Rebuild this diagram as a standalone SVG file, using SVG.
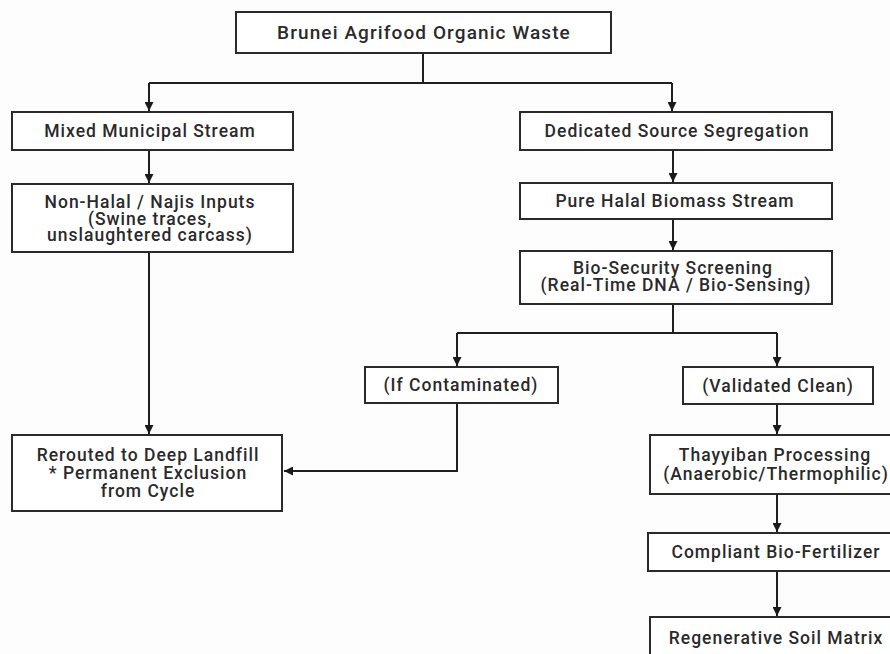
<svg xmlns="http://www.w3.org/2000/svg" width="890" height="654" viewBox="0 0 890 654">
<defs>
<marker id="ah" viewBox="0 0 10 10" refX="10" refY="5" markerWidth="9" markerHeight="9" markerUnits="userSpaceOnUse" orient="auto">
<path d="M0,0 L10,5 L0,10 z" fill="#1a1a1a"/>
</marker>
<style>
.box{fill:#ffffff;stroke:#2a2a2a;stroke-width:2}
.t{font-family:Roboto,"Liberation Sans",sans-serif;font-size:17.5px;fill:#2a2a2a;text-anchor:middle;letter-spacing:1px;font-weight:500}
.tt{font-size:19px;letter-spacing:1.1px}
.c{fill:none;stroke:#1f1f1f;stroke-width:2}
.a{marker-end:url(#ah)}
</style>
</defs>
<rect width="890" height="654" fill="#fdfdfd"/>
<g id="connectors">
<path class="c" d="M423,53 V83 M149,83 H672"/>
<path class="c a" d="M149,83 V111"/>
<path class="c a" d="M672,83 V111"/>
<path class="c a" d="M149,150 V183"/>
<path class="c a" d="M149,252 V434"/>
<path class="c a" d="M673,150 V182"/>
<path class="c a" d="M673,219 V250"/>
<path class="c" d="M673,304 V333 M457,333 H777"/>
<path class="c a" d="M457,333 V366"/>
<path class="c a" d="M777,333 V366"/>
<path class="c a" d="M457,403 V471 H284"/>
<path class="c a" d="M777,404 V434"/>
<path class="c a" d="M777,494 V532"/>
<path class="c a" d="M777,571 V616"/>
</g>
<g id="n_top"><rect class="box" x="236" y="12" width="375" height="41"/><text class="t tt" x="424" y="39">Brunei Agrifood Organic Waste</text></g>
<g id="n_mixed"><rect class="box" x="12" y="112" width="281" height="38"/><text class="t" x="150" y="137">Mixed Municipal Stream</text></g>
<g id="n_nonhalal"><rect class="box" x="12" y="184" width="281" height="68"/><text class="t" x="150" y="208">Non-Halal / Najis Inputs</text><text class="t" x="150" y="225">(Swine traces,</text><text class="t" x="150" y="241">unslaughtered carcass)</text></g>
<g id="n_reroute"><rect class="box" x="12" y="435" width="270" height="76"/><text class="t" x="148" y="461">Rerouted to Deep Landfill</text><text class="t" x="148" y="479">* Permanent Exclusion</text><text class="t" x="148" y="497">from Cycle</text></g>
<g id="n_dedicated"><rect class="box" x="520" y="112" width="312" height="38"/><text class="t" x="677" y="137">Dedicated Source Segregation</text></g>
<g id="n_pure"><rect class="box" x="520" y="183" width="312" height="36"/><text class="t" x="675" y="207">Pure Halal Biomass Stream</text></g>
<g id="n_bio"><rect class="box" x="520" y="251" width="312" height="53"/><text class="t" x="673" y="274">Bio-Security Screening</text><text class="t" x="676" y="291">(Real-Time DNA / Bio-Sensing)</text></g>
<g id="n_contam"><rect class="box" x="365" y="367" width="193" height="36"/><text class="t" x="461" y="391">(If Contaminated)</text></g>
<g id="n_clean"><rect class="box" x="683" y="367" width="190" height="37"/><text class="t" x="778" y="392">(Validated Clean)</text></g>
<g id="n_thayyiban"><rect class="box" x="650" y="435" width="260" height="59"/><text class="t" x="775" y="461">Thayyiban Processing</text><text class="t" x="776" y="480">(Anaerobic/Thermophilic)</text></g>
<g id="n_fert"><rect class="box" x="648" y="533" width="262" height="38"/><text class="t" x="776" y="558">Compliant Bio-Fertilizer</text></g>
<g id="n_soil"><rect class="box" x="650" y="617" width="260" height="50"/><text class="t" x="776" y="644">Regenerative Soil Matrix</text></g>
</svg>
